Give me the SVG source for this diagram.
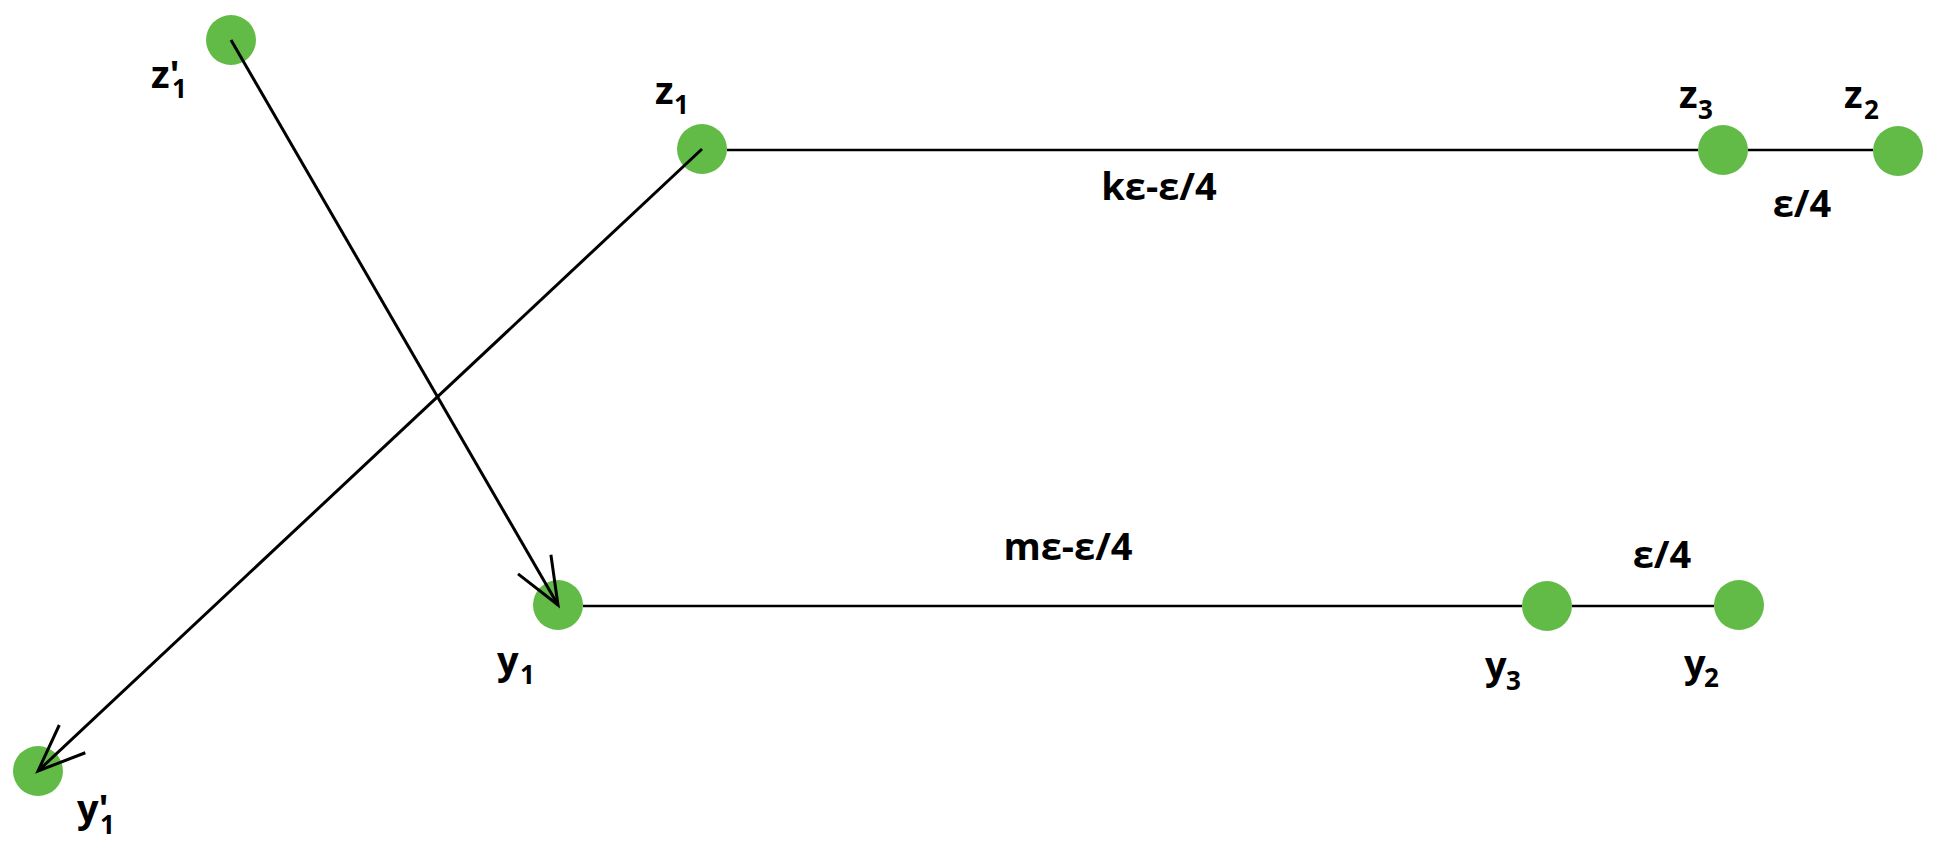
<svg xmlns="http://www.w3.org/2000/svg" width="1948" height="846" viewBox="0 0 1948 846">
<style>
  .node { fill: #62bb47; }
  .lbl { font-family: "Open Sans", "Noto Sans", "DejaVu Sans", sans-serif; font-weight: 700; fill: #000; font-size: 38px; }
  .sub { font-size: 26px; }
  .elbl { font-family: "Open Sans", "Noto Sans", "DejaVu Sans", sans-serif; font-weight: 700; fill: #000; font-size: 38px; text-anchor: middle; }
  .edge { stroke: #000; stroke-width: 2.5; fill: none; }
  .arrow { stroke: #000; stroke-width: 3; fill: none; marker-end: url(#open); }
</style>
<defs>
  <marker id="open" markerUnits="userSpaceOnUse" viewBox="-55 -30 60 60" markerWidth="60" markerHeight="60" refX="0" refY="0" orient="auto" overflow="visible">
    <path d="M-47,-19 L0,0 L-47,19" stroke="#000" stroke-width="3" fill="none" stroke-linejoin="miter"/>
  </marker>
</defs>
<rect width="1948" height="846" fill="#fff"/>

<g id="node-z1p">
  <circle class="node" cx="231" cy="40" r="25"/>
  <text class="lbl" x="151" y="88">z'<tspan class="sub" x="172" y="98">1</tspan></text>
</g>
<g id="node-z1">
  <circle class="node" cx="702" cy="149" r="25"/>
  <text class="lbl" x="655" y="104">z<tspan class="sub" x="674" y="114">1</tspan></text>
</g>
<g id="node-z3">
  <circle class="node" cx="1723" cy="150" r="25"/>
  <text class="lbl" x="1679" y="108">z<tspan class="sub" x="1698" y="119">3</tspan></text>
</g>
<g id="node-z2">
  <circle class="node" cx="1898" cy="151" r="25"/>
  <text class="lbl" x="1844" y="108">z<tspan class="sub" x="1864" y="119">2</tspan></text>
</g>
<g id="node-y1">
  <circle class="node" cx="558" cy="605" r="25"/>
  <text class="lbl" x="497" y="674">y<tspan class="sub" x="520" y="684">1</tspan></text>
</g>
<g id="node-y3">
  <circle class="node" cx="1547" cy="606" r="25"/>
  <text class="lbl" x="1485" y="679">y<tspan class="sub" x="1506" y="690">3</tspan></text>
</g>
<g id="node-y2">
  <circle class="node" cx="1739" cy="605" r="25"/>
  <text class="lbl" x="1684" y="677">y<tspan class="sub" x="1704" y="687">2</tspan></text>
</g>
<g id="node-y1p">
  <circle class="node" cx="38" cy="771" r="25"/>
  <text class="lbl" x="77" y="822">y'<tspan class="sub" x="100" y="834">1</tspan></text>
</g>

<g id="connectors">
  <line class="edge" x1="727" y1="150" x2="1698" y2="150"/>
  <line class="edge" x1="1748" y1="150" x2="1873" y2="150"/>
  <line class="edge" x1="583" y1="606" x2="1522" y2="606"/>
  <line class="edge" x1="1572" y1="606" x2="1714" y2="606"/>
  <line class="arrow" x1="231" y1="40" x2="558" y2="605"/>
  <line class="arrow" x1="702" y1="149" x2="38" y2="771"/>
</g>

<g id="edge-labels">
  <text class="elbl" x="1159" y="200">kε-ε/4</text>
  <text class="elbl" x="1802" y="217">ε/4</text>
  <text class="elbl" x="1068" y="560">mε-ε/4</text>
  <text class="elbl" x="1662" y="568">ε/4</text>
</g>
</svg>
